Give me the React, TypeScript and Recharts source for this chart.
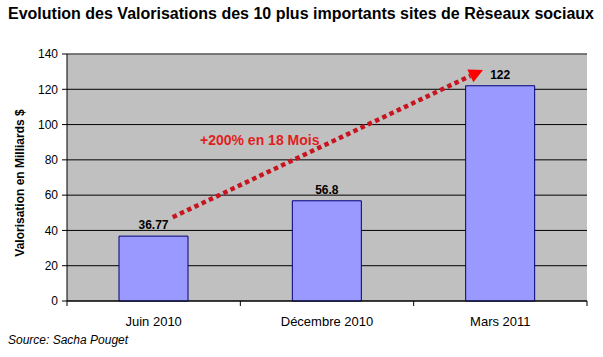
import { BarChart, Bar, XAxis, YAxis, CartesianGrid, LabelList, ReferenceLine } from 'recharts';

const periods = ['Juin 2010', 'Décembre 2010', 'Mars 2011'];
const positions = [0.5, 1.5, 2.5];
const valuations = [36.77, 56.8, 122];
const yTicks = [0, 20, 40, 60, 80, 100, 120, 140];
const xTicks = [0, 0.5, 1, 1.5, 2, 2.5, 3];
// trend arrow, x in category units (0..3), y in billions
const arrowStart = { x: 0.61, y: 47.5 };
const arrowEnd = { x: 2.4, y: 131 };

const data = periods.map((p, i) => ({ period: p, pos: positions[i], value: valuations[i] }));

const FONT = '"Liberation Sans", Arial, sans-serif';

function PeriodTick(props: any) {
  const { x, y, payload } = props;
  const v = payload.value;
  if (Number.isInteger(v)) {
    return <line x1={x} y1={y} x2={x} y2={y + 5} stroke="#000" />;
  }
  const idx = positions.indexOf(v);
  return (
    <text x={x} y={y + 25} textAnchor="middle" fontSize={13} fill="#000" fontFamily={FONT}>
      {periods[idx]}
    </text>
  );
}

function ArrowShape(props: any) {
  const { x1, y1, x2, y2 } = props;
  if ([x1, y1, x2, y2].some((v) => v == null || isNaN(v))) return null;
  const ang = Math.atan2(y2 - y1, x2 - x1);
  const head = 14;
  const half = 7;
  const bx = x2 - head * Math.cos(ang);
  const by = y2 - head * Math.sin(ang);
  const px = -Math.sin(ang) * half;
  const py = Math.cos(ang) * half;
  return (
    <g>
      <line x1={x1} y1={y1} x2={bx} y2={by} stroke="#C8141E" strokeWidth={4.5} strokeDasharray="4.5 3.5" />
      <polygon points={`${x2},${y2} ${bx + px},${by + py} ${bx - px},${by - py}`} fill="#FF0000" />
    </g>
  );
}

export default function App() {
  return (
    <div style={{ position: 'absolute', left: 0, top: 0, width: 603, height: 357, background: '#fff', fontFamily: FONT }}>
      <div style={{ position: 'absolute', left: 8, top: 5, fontSize: 16, fontWeight: 'bold', color: '#000', whiteSpace: 'nowrap' }}>
        Evolution des Valorisations des 10 plus importants sites de Rèseaux sociaux
      </div>
      <BarChart
        width={603}
        height={357}
        data={data}
        margin={{ top: 54, right: 16, bottom: 26, left: 0 }}
      >
        <CartesianGrid vertical={false} fill="#C0C0C0" stroke="#000" strokeOpacity={1} />
        <XAxis
          dataKey="pos"
          type="number"
          domain={[0, 3]}
          ticks={xTicks}
          interval={0}
          height={30}
          tickSize={0}
          tickMargin={0}
          tickLine={false}
          stroke="#000"
          tick={<PeriodTick />}
        />
        <YAxis
          domain={[0, 140]}
          ticks={yTicks}
          width={67}
          tickSize={5}
          tickMargin={4}
          stroke="#000"
          tick={{ fontSize: 12, fill: '#000', fontFamily: FONT }}
        />
        <ReferenceLine y={140} stroke="#808080" />
        <Bar dataKey="value" barSize={69} fill="#9999FF" stroke="#000080" strokeWidth={1} isAnimationActive={false}>
          <LabelList dataKey="value" position="top" offset={7} fill="#000" fontSize={12} fontWeight="bold" fontFamily={FONT} />
        </Bar>
        <ReferenceLine segment={[arrowStart, arrowEnd]} shape={ArrowShape} ifOverflow="visible" />
      </BarChart>
      <div style={{ position: 'absolute', left: 200, top: 132, fontSize: 14, fontWeight: 'bold', color: '#E01E1E', whiteSpace: 'nowrap' }}>
        +200% en 18 Mois
      </div>
      <div
        style={{
          position: 'absolute',
          left: 20,
          top: 183,
          fontSize: 12,
          fontWeight: 'bold',
          whiteSpace: 'nowrap',
          transform: 'translate(-50%, -50%) rotate(-90deg)',
        }}
      >
        Valorisation en Milliards $
      </div>
      <div style={{ position: 'absolute', left: 8, top: 333, fontSize: 12, fontStyle: 'italic', color: '#000' }}>
        Source: Sacha Pouget
      </div>
    </div>
  );
}
